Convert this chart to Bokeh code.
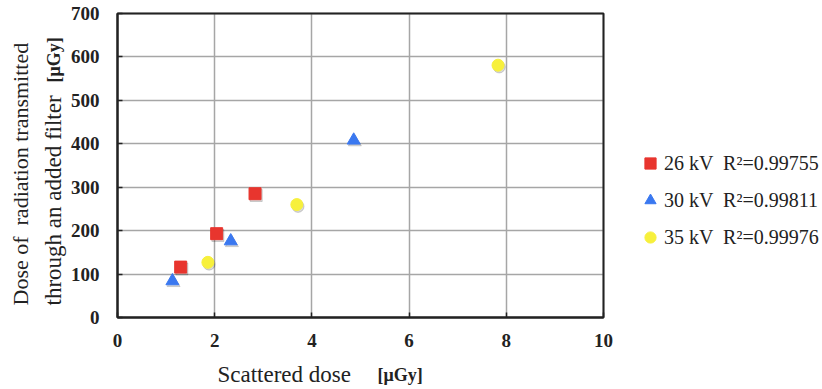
import math
from bokeh.plotting import figure
from bokeh.models import Range1d, Label, Legend, LegendItem, FixedTicker, LinearAxis, Grid
from bokeh.embed import file_html
from bokeh.resources import INLINE

# ---- data ----
x_26 = [1.30, 2.04, 2.83]
y_26 = [116, 193, 285]
x_30 = [1.13, 2.33, 4.86]
y_30 = [84, 176, 408]
x_35 = [1.86, 3.69, 7.83]
y_35 = [127, 260, 581]
series_labels = ["26 kV  R\u00b2=0.99755", "30 kV  R\u00b2=0.99811", "35 kV  R\u00b2=0.99976"]
x_ticks = [0, 2, 4, 6, 8, 10]
y_ticks = [0, 100, 200, 300, 400, 500, 600, 700]

RED = "#e8352e"
BLUE = "#3a78f0"
YELLOW = "#f7f03c"
SERIF = "Liberation Serif"
INK = "#222222"

# page size and where the plotting box sits on it (pixels from top-left)
W, H = 822, 389
L, R, T, B = 117, 603, 13, 317

x0, x1 = x_ticks[0], x_ticks[-1]
y0, y1 = y_ticks[0], y_ticks[-1]
sx = (R - L) / (x1 - x0)   # px per x unit
sy = (B - T) / (y1 - y0)   # px per y unit

def dx(cx):
    return x0 + (cx - L) / sx

def dy(cy):
    return y0 + (B - cy) / sy

p = figure(width=W, height=H, output_backend="svg", toolbar_location=None,
           x_range=Range1d(dx(0), dx(W)), y_range=Range1d(dy(H), dy(0)),
           x_axis_location=None, y_axis_location=None,
           min_border=0, min_border_left=0, min_border_right=0,
           min_border_top=0, min_border_bottom=0)
p.background_fill_color = "white"
p.border_fill_color = "white"
p.outline_line_color = None
p.grid.visible = False

# grid lines limited to the plotting box
xg = Grid(dimension=0, ticker=FixedTicker(ticks=x_ticks), cross_bounds=(y0, y1),
          grid_line_color="#a6a6a6", grid_line_width=1.5)
yg = Grid(dimension=1, ticker=FixedTicker(ticks=y_ticks), cross_bounds=(x0, x1),
          grid_line_color="#a6a6a6", grid_line_width=1.5)
p.add_layout(xg)
p.add_layout(yg)

# box outline
p.quad(left=[x0], right=[x1], bottom=[y0], top=[y1], fill_color=None,
       line_color=INK, line_width=2)

# axes fixed at the box edges
xaxis = LinearAxis(fixed_location=y0, bounds=(x0, x1), ticker=FixedTicker(ticks=x_ticks))
yaxis = LinearAxis(fixed_location=x0, bounds=(y0, y1), ticker=FixedTicker(ticks=y_ticks))
for ax in (xaxis, yaxis):
    ax.axis_line_color = INK
    ax.axis_line_width = 2
    ax.major_tick_in = 5
    ax.major_tick_out = 0
    ax.major_tick_line_color = INK
    ax.major_tick_line_width = 1.5
    ax.minor_tick_line_color = None
    ax.major_label_text_font = SERIF
    ax.major_label_text_font_style = "bold"
    ax.major_label_text_font_size = "19px"
    ax.major_label_text_color = INK
xaxis.major_label_standoff = 16
yaxis.major_label_standoff = 18
p.add_layout(xaxis, "below")
p.add_layout(yaxis, "left")

# marker shadows
def shift(vals, d):
    return [v + d for v in vals]

p.scatter(shift(x_26, 1.2 / sx), shift(y_26, -1.8 / sy), marker="square", size=12, color="#000000", alpha=0.15)
p.scatter(shift(x_30, 1.2 / sx), shift(y_30, -1.8 / sy), marker="triangle", size=13, color="#000000", alpha=0.15)
p.scatter(shift(x_35, 1.2 / sx), shift(y_35, -1.8 / sy), marker="circle", size=12, color="#000000", alpha=0.15)

r26 = p.scatter(x_26, y_26, marker="square", size=12, fill_color=RED, line_color=RED)
r30 = p.scatter(x_30, y_30, marker="triangle", size=13, fill_color=BLUE, line_color=BLUE)
r35 = p.scatter(x_35, y_35, marker="circle", size=12, fill_color=YELLOW, line_color=YELLOW)

legend = Legend(items=[LegendItem(label=series_labels[0], renderers=[r26]),
                       LegendItem(label=series_labels[1], renderers=[r30]),
                       LegendItem(label=series_labels[2], renderers=[r35])],
                location=(636, H - 252))
legend.border_line_color = None
legend.background_fill_alpha = 0
legend.padding = 0
legend.margin = 0
legend.spacing = 7
legend.glyph_width = 28
legend.glyph_height = 30
legend.label_height = 30
legend.label_standoff = 0
legend.label_text_font = SERIF
legend.label_text_font_size = "20px"
legend.label_text_color = INK
p.add_layout(legend, "center")

# axis titles
def lab(cx, cy, text, bold=False, size="23px", angle=0):
    return Label(x=dx(cx), y=dy(cy), text=text,
                 text_font=SERIF, text_font_style="bold" if bold else "normal",
                 text_font_size=size, text_color=INK, angle=angle,
                 text_align="left", text_baseline="middle")

p.add_layout(lab(217, 374, "Scattered dose"))
p.add_layout(lab(377, 374, "[\u03bcGy]", bold=True, size="18px"))
p.add_layout(lab(20, 305, "Dose of\u00a0 radiation transmitted", size="22px", angle=math.pi / 2))
p.add_layout(lab(53, 305, "through an added filter", angle=math.pi / 2))
p.add_layout(lab(53, 82, "[\u03bcGy]", bold=True, size="18px", angle=math.pi / 2))

open("out.html", "w").write(file_html(p, INLINE))
